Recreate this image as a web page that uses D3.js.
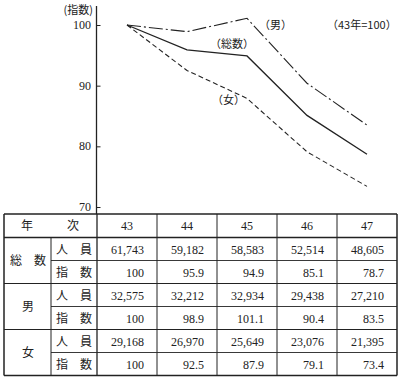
<!DOCTYPE html>
<html><head><meta charset="utf-8">
<script src="https://cdn.jsdelivr.net/npm/d3@7"></script>
<style>body{margin:0;background:#fff}svg{display:block}</style>
</head><body>
<script>
const years = ["43","44","45","46","47"];
const totalPersons = [61743, 59182, 58583, 52514, 48605];
const totalIndex = [100, 95.9, 94.9, 85.1, 78.7];
const malePersons = [32575, 32212, 32934, 29438, 27210];
const maleIndex = [100, 98.9, 101.1, 90.4, 83.5];
const femalePersons = [29168, 26970, 25649, 23076, 21395];
const femaleIndex = [100, 92.5, 87.9, 79.1, 73.4];
const yTicks = [70, 80, 90, 100];
const groupLabels = ["総　数", "男", "女"];
const subLabels = ["人　員", "指　数"];

const W = 401, H = 380;
const svg = d3.select("body").append("svg").attr("width", W).attr("height", H);
const serif = "'Liberation Serif','DejaVu Serif',serif";
const jp = "'Noto Sans CJK JP','Noto Sans CJK SC',sans-serif";
const ink = "#222";

const x = d3.scaleBand().domain(years).range([97, 397]);
const cx = d => x(d) + x.bandwidth() / 2;
const y = d3.scaleLinear().domain([70, 100]).range([207, 25]);

// axis
const axisG = svg.append("g").attr("transform", "translate(96.5,0)");
axisG.call(d3.axisRight(y).tickValues(yTicks).tickSize(4).tickFormat(""));
axisG.select(".domain").remove();
axisG.selectAll("line").attr("stroke", ink).attr("stroke-width", 1);
svg.append("line").attr("x1", 96.5).attr("x2", 96.5).attr("y1", 6).attr("y2", 214)
  .attr("stroke", ink).attr("stroke-width", 1.3);
svg.selectAll("text.ytl").data(yTicks).enter().append("text").attr("class", "ytl")
  .attr("x", 91).attr("y", d => y(d) + 4).attr("text-anchor", "end")
  .attr("font-family", serif).attr("font-size", 12).attr("fill", ink).text(d => d);
svg.append("text").attr("x", 93).attr("y", 14).attr("text-anchor", "end")
  .attr("font-family", jp).attr("font-size", 11).attr("fill", ink).text("(指数)");

// lines
const line = d3.line().x((d, i) => cx(years[i])).y(d => y(d));
svg.append("path").datum(totalIndex).attr("d", line).attr("fill", "none")
  .attr("stroke", ink).attr("stroke-width", 1.3);
svg.append("path").datum(maleIndex).attr("d", line).attr("fill", "none")
  .attr("stroke", ink).attr("stroke-width", 1.1).attr("stroke-dasharray", "14,3,2,3");
svg.append("path").datum(femaleIndex).attr("d", line).attr("fill", "none")
  .attr("stroke", ink).attr("stroke-width", 1.1).attr("stroke-dasharray", "5,3");

// line labels
const lab = (t, xx, yy) => svg.append("text").attr("x", xx).attr("y", yy)
  .attr("font-family", jp).attr("font-size", 11).attr("fill", ink).text(t);
lab("（男）", 259, 29);
lab("（総数）", 210, 48);
lab("（女）", 212, 104);
svg.append("text").attr("x", 327).attr("y", 29).attr("font-family", jp)
  .attr("font-size", 11).attr("fill", ink).text("（43年=100）");

// table
const tTop = 214, hdrB = 237.5, rowH = 23;
const tL = 4, tR = 397, subL = 51;
const tg = svg.append("g");
const rows = [totalPersons, totalIndex, malePersons, maleIndex, femalePersons, femaleIndex];
const rowY = i => hdrB + i * rowH;
const tBot = rowY(6);

// header
tg.append("text").attr("x", 27).attr("y", 230).attr("text-anchor", "middle")
  .attr("font-family", jp).attr("font-size", 12).attr("fill", ink).text("年");
tg.append("text").attr("x", 73).attr("y", 230).attr("text-anchor", "middle")
  .attr("font-family", jp).attr("font-size", 12).attr("fill", ink).text("次");
tg.selectAll("text.yr").data(years).enter().append("text").attr("class", "yr")
  .attr("x", d => cx(d)).attr("y", 230).attr("text-anchor", "middle")
  .attr("font-family", serif).attr("font-size", 12).attr("fill", ink).text(d => d);

// group labels
groupLabels.forEach((g, gi) => {
  tg.append("text").attr("x", 28).attr("y", rowY(gi * 2 + 1) + 4.5).attr("text-anchor", "middle")
    .attr("font-family", jp).attr("font-size", 12).attr("fill", ink).text(g);
});
rows.forEach((r, ri) => {
  tg.append("text").attr("x", 74).attr("y", rowY(ri) + rowH / 2 + 4.5).attr("text-anchor", "middle")
    .attr("font-family", jp).attr("font-size", 12).attr("fill", ink).text(subLabels[ri % 2]);
  const fmt = ri % 2 === 0 ? d3.format(",") : (v => v === 100 ? "100" : d3.format(".1f")(v));
  tg.selectAll(null).data(r).enter().append("text")
    .attr("x", (d, i) => x(years[i]) + x.bandwidth() - 13)
    .attr("y", rowY(ri) + rowH / 2 + 4.5).attr("text-anchor", "end")
    .attr("font-family", serif).attr("font-size", 12).attr("fill", ink).text(d => fmt(d));
});

// grid
const hl = (x1, x2, yy, w) => tg.append("line").attr("x1", x1).attr("x2", x2)
  .attr("y1", yy).attr("y2", yy).attr("stroke", ink).attr("stroke-width", w);
const vl = (xx, y1, y2, w) => tg.append("line").attr("x1", xx).attr("x2", xx)
  .attr("y1", y1).attr("y2", y2).attr("stroke", ink).attr("stroke-width", w);
hl(tL, tR, tTop, 1.5);
hl(tL, tR, hdrB, 1.3);
for (let i = 1; i < 6; i++) hl(i % 2 === 0 ? tL : subL, tR, rowY(i), i % 2 === 0 ? 1.2 : 0.9);
hl(tL, tR, tBot, 1.5);
vl(tL, tTop, tBot, 1.5);
vl(tR, tTop, tBot, 1.5);
vl(subL, hdrB, tBot, 1);
years.forEach((d, i) => vl(x(d), tTop, tBot, i === 0 ? 1.3 : 1));
</script>
</body></html>
